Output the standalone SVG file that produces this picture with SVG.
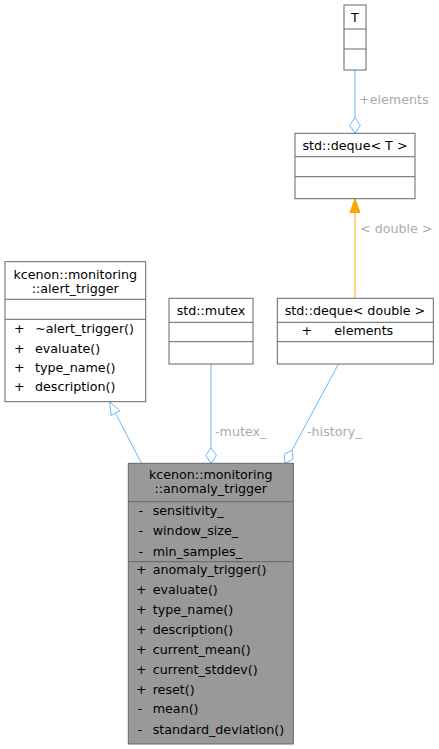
<svg xmlns="http://www.w3.org/2000/svg" width="439" height="749" viewBox="0 0 439 749">
<style>
  .box{fill:#ffffff;stroke:#666666;stroke-width:1}
  .cur{fill:#999999;stroke:#666666;stroke-width:1}
  .div{stroke:#666666;stroke-width:1;fill:none}
  text{font-family:"DejaVu Sans","Liberation Sans",sans-serif;font-size:12.7px;fill:#000000}
  .c{text-anchor:middle}
  .lbl{fill:#ababab}
  .edge{stroke:#63b8ff;stroke-width:1;fill:none}
  .head{stroke:#63b8ff;stroke-width:1;fill:#ffffff}
  .tmpl{stroke:#ffa500;stroke-width:1;fill:none}
  .tmplhead{stroke:#ffa500;stroke-width:1;fill:#ffa500}
</style>
<rect width="439" height="749" fill="#ffffff"/>
<g id="connectors">
  <line class="edge" x1="355" y1="70" x2="355" y2="117.5"/>
  <polygon class="head" points="355,117.5 360.3,125.4 355,133.3 349.7,125.4"/>
  <text class="lbl" x="359" y="104">+elements</text>
  <line class="tmpl" x1="355" y1="298" x2="355" y2="212.5"/>
  <polygon class="tmplhead" points="355,198.7 360,212.5 350,212.5"/>
  <text class="lbl" x="360" y="233">&lt; double &gt;</text>
  <line class="edge" x1="211" y1="364" x2="211" y2="447.7"/>
  <polygon class="head" points="211,447.7 216.3,455.5 211,463.3 205.7,455.5"/>
  <text class="lbl" x="215" y="436">-mutex_</text>
  <line class="edge" x1="338.5" y1="364" x2="292.1" y2="450.1"/>
  <polygon class="head" points="292.1,450.1 293,459.1 285,463.3 284.2,454.3"/>
  <text class="lbl" x="307" y="436">-history_</text>
  <line class="edge" x1="141.5" y1="463.3" x2="115.5" y2="413.2"/>
  <polygon class="head" points="109.5,401.7 119.9,410.9 111.1,415.5"/>
</g>
<g id="node_T">
  <rect class="box" x="344" y="5" width="22" height="65"/>
  <line class="div" x1="344" y1="29" x2="366" y2="29"/>
  <line class="div" x1="344" y1="49" x2="366" y2="49"/>
  <text class="c" x="355" y="21.5">T</text>
</g>
<g id="node_deque_T">
  <rect class="box" x="295" y="133.3" width="120" height="65.4"/>
  <line class="div" x1="295" y1="156.7" x2="415" y2="156.7"/>
  <line class="div" x1="295" y1="176.7" x2="415" y2="176.7"/>
  <text class="c" x="355" y="150">std::deque&lt; T &gt;</text>
</g>
<g id="node_deque_double">
  <rect class="box" x="277.3" y="298.3" width="156" height="65.7"/>
  <line class="div" x1="277.3" y1="322.3" x2="433.3" y2="322.3"/>
  <line class="div" x1="277.3" y1="341.7" x2="433.3" y2="341.7"/>
  <text class="c" x="355" y="315">std::deque&lt; double &gt;</text>
  <text x="301.5" y="335">+</text>
  <text x="334.3" y="335">elements</text>
</g>
<g id="node_mutex">
  <rect class="box" x="169" y="298.3" width="84" height="65.7"/>
  <line class="div" x1="169" y1="322.3" x2="253" y2="322.3"/>
  <line class="div" x1="169" y1="341.7" x2="253" y2="341.7"/>
  <text class="c" x="211" y="315">std::mutex</text>
</g>
<g id="node_alert_trigger">
  <rect class="box" x="5" y="261.7" width="140.7" height="140"/>
  <line class="div" x1="5" y1="299.3" x2="145.7" y2="299.3"/>
  <line class="div" x1="5" y1="319.3" x2="145.7" y2="319.3"/>
  <text class="c" x="75.3" y="279.3">kcenon::monitoring</text>
  <text class="c" x="75.3" y="293">::alert_trigger</text>
  <text x="14" y="333.3">+</text><text x="35" y="333.3">~alert_trigger()</text>
  <text x="14" y="352.5">+</text><text x="35" y="352.5">evaluate()</text>
  <text x="14" y="371.7">+</text><text x="35" y="371.7">type_name()</text>
  <text x="14" y="390.8">+</text><text x="35" y="390.8">description()</text>
</g>
<g id="node_anomaly_trigger">
  <rect class="cur" x="128.3" y="463.3" width="165" height="280.7"/>
  <line class="div" x1="128.3" y1="501.7" x2="293.3" y2="501.7"/>
  <line class="div" x1="128.3" y1="561.7" x2="293.3" y2="561.7"/>
  <text class="c" x="210.8" y="479">kcenon::monitoring</text>
  <text class="c" x="210.8" y="493">::anomaly_trigger</text>
  <text x="138.5" y="515">-</text><text x="152.7" y="515">sensitivity_</text>
  <text x="138.5" y="535">-</text><text x="152.7" y="535">window_size_</text>
  <text x="138.5" y="555.5">-</text><text x="152.7" y="555.5">min_samples_</text>
  <text x="136" y="574">+</text><text x="152.7" y="574">anomaly_trigger()</text>
  <text x="136" y="594">+</text><text x="152.7" y="594">evaluate()</text>
  <text x="136" y="614">+</text><text x="152.7" y="614">type_name()</text>
  <text x="136" y="634">+</text><text x="152.7" y="634">description()</text>
  <text x="136" y="654">+</text><text x="152.7" y="654">current_mean()</text>
  <text x="136" y="674">+</text><text x="152.7" y="674">current_stddev()</text>
  <text x="136" y="694">+</text><text x="152.7" y="694">reset()</text>
  <text x="137.5" y="713">-</text><text x="152.7" y="713">mean()</text>
  <text x="137.5" y="734">-</text><text x="152.7" y="734">standard_deviation()</text>
</g>
</svg>
